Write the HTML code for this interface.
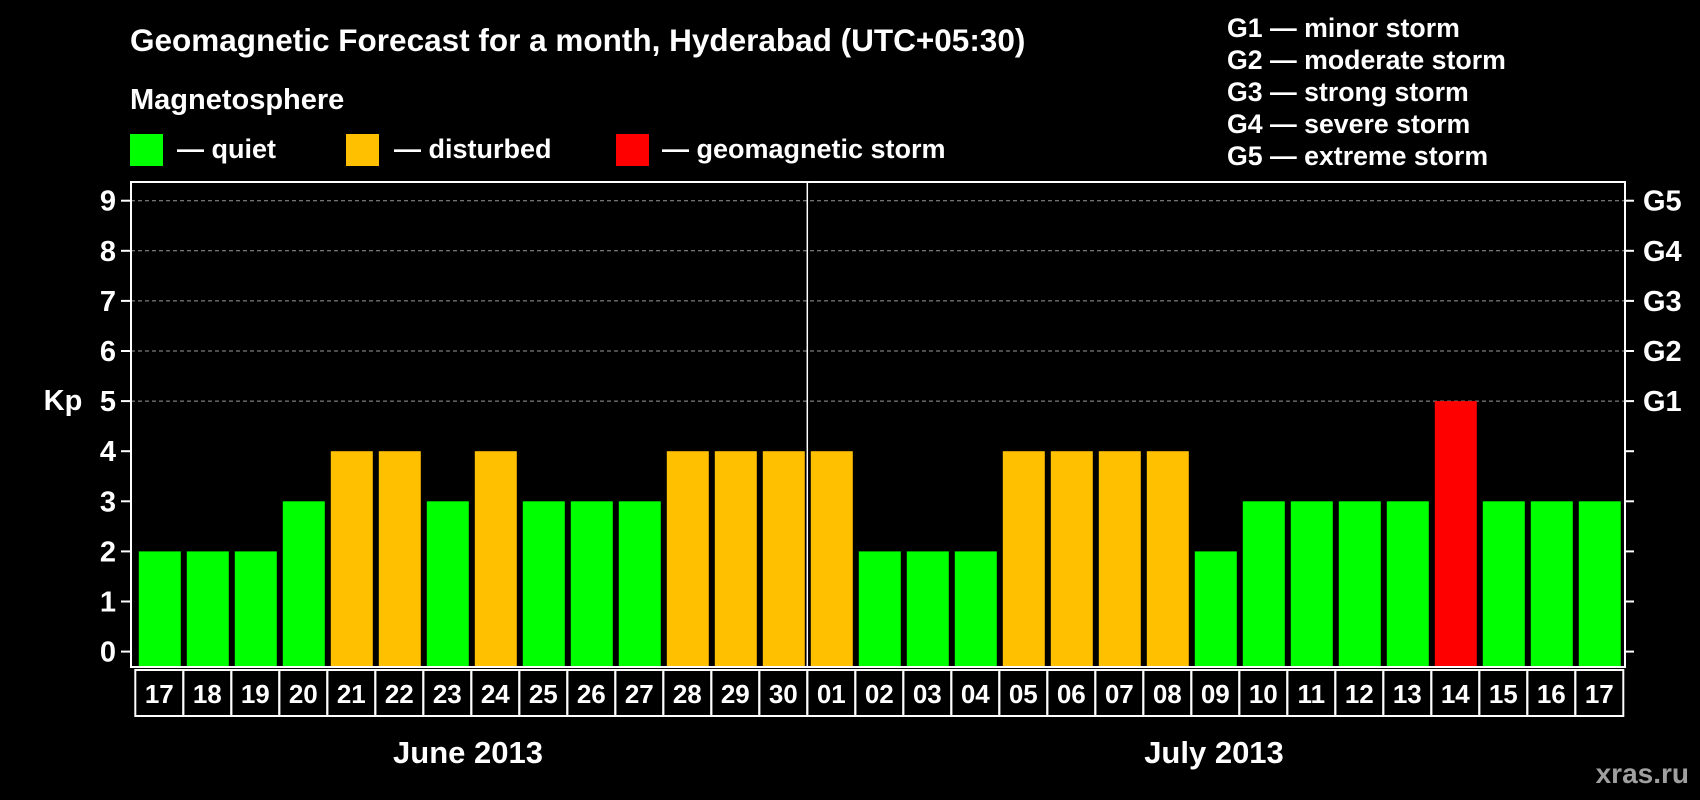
<!DOCTYPE html>
<html><head><meta charset="utf-8"><style>
html,body{margin:0;padding:0;background:#000;}
svg{display:block;font-family:"Liberation Sans",Arial,sans-serif;font-weight:bold;}
</style></head><body>
<svg id="chart" width="1700" height="800" viewBox="0 0 1700 800" xmlns="http://www.w3.org/2000/svg">
<rect width="1700" height="800" fill="#000"/>
<text x="130" y="51" fill="#fff" font-size="31.5">Geomagnetic Forecast for a month, Hyderabad (UTC+05:30)</text>
<text x="130" y="109" fill="#fff" font-size="29">Magnetosphere</text>
<g><rect x="130" y="134" width="33" height="32" fill="#00ff00"/><text x="177" y="158" fill="#fff" font-size="27">— quiet</text></g>
<g><rect x="346" y="134" width="33" height="32" fill="#ffc000"/><text x="394" y="158" fill="#fff" font-size="27">— disturbed</text></g>
<g><rect x="616" y="134" width="33" height="32" fill="#ff0000"/><text x="662" y="158" fill="#fff" font-size="27">— geomagnetic storm</text></g>
<g fill="#fff" font-size="26.7">
<text x="1227" y="37">G1 — minor storm</text>
<text x="1227" y="69">G2 — moderate storm</text>
<text x="1227" y="101">G3 — strong storm</text>
<text x="1227" y="133">G4 — severe storm</text>
<text x="1227" y="165">G5 — extreme storm</text>
</g>
<g id="plot"></g>
<text x="63" y="410" fill="#fff" font-size="29" text-anchor="middle">Kp</text>
<text x="468" y="763" fill="#fff" font-size="31" text-anchor="middle">June 2013</text>
<text x="1214" y="763" fill="#fff" font-size="31" text-anchor="middle">July 2013</text>
<text x="1689" y="783" fill="#a0a0a0" font-size="28" text-anchor="end">xras.ru</text>
</svg>
<script>
const days = ["17","18","19","20","21","22","23","24","25","26","27","28","29","30","01","02","03","04","05","06","07","08","09","10","11","12","13","14","15","16","17"];
const kp = [2,2,2,3,4,4,3,4,3,3,3,4,4,4,4,2,2,2,4,4,4,4,2,3,3,3,3,5,3,3,3];
const yTicks = [0,1,2,3,4,5,6,7,8,9];
const gLabels = ["G1","G2","G3","G4","G5"];
const gLevels = [5,6,7,8,9];
const monthSplitIndex = 14;

const NS="http://www.w3.org/2000/svg";
const plot=document.getElementById('plot');
const L=131,R=1625,T=182,B=667,band=48;
const y=v=>651.6-v*50.1;
const x=i=>132.8+i*band;
function mk(t,a,p){const e=document.createElementNS(NS,t);for(const k in a)e.setAttribute(k,a[k]);(p||plot).appendChild(e);return e;}
yTicks.forEach(v=>{
  if(v>=5){const g=mk('line',{x1:L,x2:R,y1:y(v),y2:y(v),stroke:'#999','stroke-width':1,'stroke-dasharray':'4,3'});
  
  }
  const t=mk('line',{x1:121,x2:L,y1:y(v),y2:y(v),stroke:'#fff','stroke-width':2});
  
  
  const t2=mk('line',{x1:R,x2:1634,y1:y(v),y2:y(v),stroke:'#fff','stroke-width':2});
  
  
  const lb=mk('text',{x:116,y:y(v)+10,fill:'#fff','font-size':29,'text-anchor':'end'});
  lb.textContent=v;
  
  
});
gLabels.forEach((g,i)=>{
  const lb=mk('text',{x:1643,y:y(gLevels[i])+10,fill:'#fff','font-size':29});
  lb.textContent=g;
  
  
});
kp.forEach((v,i)=>{
  const c=v>=5?'#ff0000':(v>=4?'#ffc000':'#00ff00');
  const b=mk('rect',{x:x(i)+6,y:y(v),width:42,height:B-1-y(v),fill:c});
  
  
  const bx=mk('rect',{x:x(i)+2.5,y:670,width:48,height:46,fill:'none',stroke:'#fff','stroke-width':2});
  
  
  const t=mk('text',{x:x(i)+26.5,y:703,fill:'#fff','font-size':26,'text-anchor':'middle'});
  t.textContent=days[i];
  
  
});
const sep=mk('line',{x1:x(monthSplitIndex)+2.5,x2:x(monthSplitIndex)+2.5,y1:T,y2:B,stroke:'#fff','stroke-width':1.5});


const fr=mk('rect',{x:L,y:T,width:R-L,height:B-T,fill:'none',stroke:'#fff','stroke-width':2});


</script>
</body></html>
